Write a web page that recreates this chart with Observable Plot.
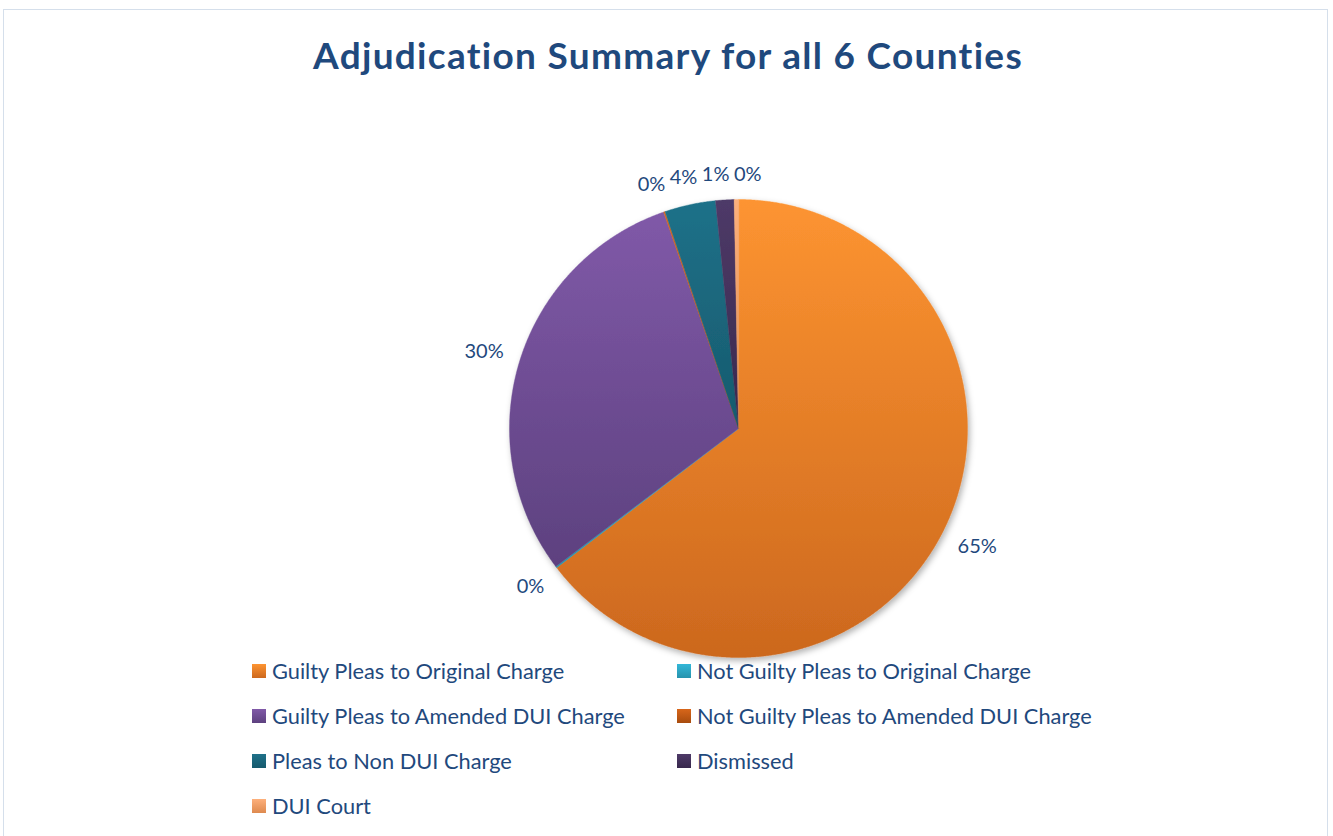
<!DOCTYPE html>
<html><head><meta charset="utf-8">
<script src="https://cdn.jsdelivr.net/npm/d3@7"></script>
<script src="https://cdn.jsdelivr.net/npm/@observablehq/plot@0.6"></script>
<style>
body{margin:0;background:#fff;font-family:Lato,"Open Sans",sans-serif;overflow:hidden;}
#frame{position:absolute;left:3px;top:9px;width:1325px;height:840px;border:1.5px solid #d5dfeb;box-sizing:border-box;}
#title{position:absolute;left:0;width:1336px;top:32px;text-align:center;font-weight:700;font-size:37px;color:#1f497d;letter-spacing:1.3px;}
#chart{position:absolute;left:0;top:100px;}
#legend{position:absolute;left:252px;top:648px;display:grid;grid-template-columns:425px 425px;}
.item{display:flex;align-items:center;height:45px;font-size:21.8px;color:#1f497d;white-space:nowrap;}
.sw{width:14px;height:14px;margin-right:6px;flex:none;}
</style></head>
<body>
<div id="frame"></div>
<div id="title">Adjudication Summary for all 6 Counties</div>
<div id="chart"></div>
<div id="legend"></div>
<script>
// ---- data ----
const categories = [
  "Guilty Pleas to Original Charge",
  "Not Guilty Pleas to Original Charge",
  "Guilty Pleas to Amended DUI Charge",
  "Not Guilty Pleas to Amended DUI Charge",
  "Pleas to Non DUI Charge",
  "Dismissed",
  "DUI Court"
];
const shares = [64.6, 0.1, 30.0, 0.1, 3.6, 1.3, 0.3];

// ---- palette (top, bottom of gradient) ----
const topColors    = ["#fd9431", "#33b7d8", "#8059a8", "#d8661a", "#1f7189", "#4e3a68", "#fdb07c"];
const bottomColors = ["#cc681e", "#2793ad", "#5d417f", "#a84c0e", "#165a6d", "#38284d", "#de8a4f"];

const total = d3.sum(shares);
const arcs = d3.pie().sort(null).value(d => d)(shares);

// slice polygons in unit-circle data space (angle 0 at top, clockwise)
const slices = arcs.map((a, i) => {
  const pts = [{x: 0, y: 0}];
  const n = Math.max(2, Math.ceil((a.endAngle - a.startAngle) / 0.005));
  for (let k = 0; k <= n; k++) {
    const t = a.startAngle + (a.endAngle - a.startAngle) * k / n;
    pts.push({x: Math.sin(t), y: Math.cos(t)});
  }
  return pts;
});

const R = 229; // pixel radius
const FS = 20;
const labels = arcs.map((a, i) => {
  const m = (a.startAngle + a.endAngle) / 2;
  const s = Math.sin(m), c = Math.cos(m);
  const text = Math.round(shares[i] / total * 100) + "%";
  const w = (text.length - 1) * 11.6 + 16.5;
  const rp = R + 15 + Math.abs(s) * w / 2 + Math.abs(c) * 10;
  return {px: s * rp, py: c * rp, w, text};
});
// simple horizontal de-overlap for labels in the same band
for (let it = 0; it < 40; it++) {
  for (let i = 0; i < labels.length; i++) for (let j = i + 1; j < labels.length; j++) {
    const A = labels[i], B = labels[j];
    if (Math.abs(A.py - B.py) > 22) continue;
    const need = (A.w + B.w) / 2 + 4 - Math.abs(A.px - B.px);
    if (need > 0) {
      const sgn = A.px <= B.px ? -1 : 1;
      A.px += sgn * need / 2; B.px -= sgn * need / 2;
    }
  }
}
labels.forEach(l => { l.x = l.px / R; l.y = l.py / R; });

const plot = Plot.plot({
  width: 1333,
  height: 560,
  x: {domain: [-1, 1], range: [738 - R, 738 + R], axis: null},
  y: {domain: [-1, 1], range: [328 + R, 328 - R], axis: null},
  style: {fontFamily: "Lato, 'Open Sans', sans-serif", overflow: "visible", background: "transparent"},
  marks: [
    ...slices.map((pts, i) => Plot.line(pts, {
      x: "x", y: "y", curve: "linear-closed",
      fill: `url(#g${i})`, stroke: `url(#g${i})`, strokeWidth: 0.4
    })),
    Plot.text(labels, {x: "x", y: "y", text: "text", fontSize: FS, fill: "#1f497d"})
  ]
});

const svg = d3.select(plot);
const defs = svg.insert("defs", ":first-child");
topColors.forEach((c, i) => {
  const g = defs.append("linearGradient").attr("id", "g" + i)
    .attr("x1", 0).attr("y1", 0).attr("x2", 0).attr("y2", 1);
  g.append("stop").attr("offset", 0).attr("stop-color", c);
  g.append("stop").attr("offset", 1).attr("stop-color", bottomColors[i]);
});
const f = defs.append("filter").attr("id", "shadow").attr("x", "-10%").attr("y", "-10%").attr("width", "120%").attr("height", "120%");
f.append("feDropShadow").attr("dx", 2).attr("dy", 3).attr("stdDeviation", 3).attr("flood-color", "#000").attr("flood-opacity", 0.3);

const lineGroups = plot.querySelectorAll('g[aria-label="line"]');
if (lineGroups.length) {
  const wrap = document.createElementNS("http://www.w3.org/2000/svg", "g");
  wrap.setAttribute("filter", "url(#shadow)");
  lineGroups[0].parentNode.insertBefore(wrap, lineGroups[0]);
  lineGroups.forEach(g => wrap.appendChild(g));
}
document.getElementById("chart").appendChild(plot);

// legend (row-major, two columns)
const legend = document.getElementById("legend");
categories.forEach((name, i) => {
  const it = document.createElement("div");
  it.className = "item";
  const sw = document.createElement("span");
  sw.className = "sw";
  sw.style.background = `linear-gradient(${topColors[i]}, ${bottomColors[i]})`;
  const tx = document.createElement("span");
  tx.textContent = name;
  it.appendChild(sw); it.appendChild(tx);
  legend.appendChild(it);
});
</script>
</body></html>
